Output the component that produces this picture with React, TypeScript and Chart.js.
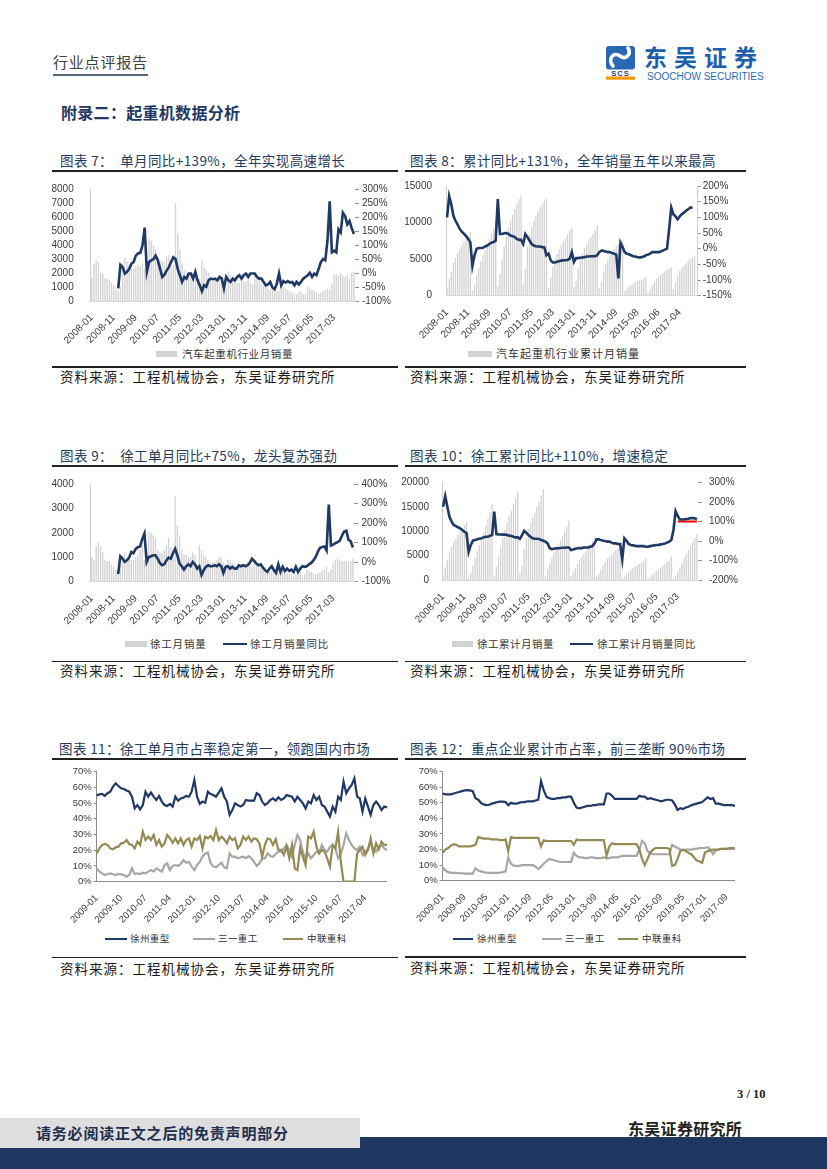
import React, { useEffect, useRef } from 'react';
import { Chart, registerables } from 'chart.js';

Chart.register(...registerables);

// ---------- categories ----------
function monthLabels(startYear: number, startMonth: number, count: number, skip: string[] = []): string[] {
  const out: string[] = [];
  let y = startYear;
  let m = startMonth;
  while (out.length < count) {
    const s = `${y}-${String(m).padStart(2, '0')}`;
    if (!skip.includes(s)) out.push(s);
    m++;
    if (m > 12) { m = 1; y++; }
  }
  return out;
}

const c7Categories = monthLabels(2008, 1, 120);
const c8Categories = monthLabels(2008, 1, 119, ['2015-01']);
const c9Categories = monthLabels(2008, 1, 120);
const c10Categories = monthLabels(2008, 1, 120);
const c11Categories = monthLabels(2009, 1, 108);
const c12Categories = monthLabels(2009, 1, 108);

const c7TickLabels = ['2008-01', '2008-11', '2009-09', '2010-07', '2011-05', '2012-03', '2013-01', '2013-11', '2014-09', '2015-07', '2016-05', '2017-03'];
const c8TickLabels = ['2008-01', '2008-11', '2009-09', '2010-07', '2011-05', '2012-03', '2013-01', '2013-11', '2014-09', '2015-08', '2016-06', '2017-04'];
const c9TickLabels = ['2008-01', '2008-11', '2009-09', '2010-07', '2011-05', '2012-03', '2013-01', '2013-11', '2014-09', '2015-07', '2016-05', '2017-03'];
const c10TickLabels = ['2008-01', '2008-11', '2009-09', '2010-07', '2011-05', '2012-03', '2013-01', '2013-11', '2014-09', '2015-07', '2016-05', '2017-03'];
const c11TickLabels = ['2009-01', '2009-10', '2010-07', '2011-04', '2012-01', '2012-10', '2013-07', '2014-04', '2015-01', '2015-10', '2016-07', '2017-04'];
const c12TickLabels = ['2009-01', '2009-09', '2010-05', '2011-01', '2011-09', '2012-05', '2013-01', '2013-09', '2014-05', '2015-01', '2015-09', '2016-05', '2017-01', '2017-09'];

// ---------- chart 7: truck crane monthly sales & YoY ----------
const c7Sales = [
  1650, 2650, 2900, 2750, 2000, 1950, 1600, 1600, 1500, 1300, 1100, 900,
  700, 1000, 2700, 3100, 2800, 2600, 2400, 2300, 2500, 2600, 2500, 2700,
  2300, 2500, 4500, 4300, 4000, 3700, 3200, 2800, 2900, 2800, 3200, 3300,
  2400, 2600, 7000, 4800, 3700, 2700, 2200, 2000, 2000, 1900, 2000, 2100,
  1300, 1600, 2900, 2400, 2200, 2000, 1600, 1500, 1500, 1400, 1500, 1600,
  1400, 900, 2100, 1900, 1700, 1500, 1300, 1300, 1400, 1400, 1400, 1600,
  1300, 1200, 1900, 1800, 1500, 1300, 1100, 1000, 900, 800, 800, 900,
  700, 700, 1100, 1000, 900, 800, 700, 600, 500, 500, 600, 700,
  500, 500, 1000, 900, 800, 700, 600, 500, 600, 700, 800, 900,
  800, 1200, 1900, 1900, 1800, 2000, 1800, 1700, 1800, 1600, 2000, 2100,
];
const c7YoY = [
  null, null, null, null, null, null, null, null, null, null, null, null,
  -55, 29, 21, -2, 4, 15, 33, 39, 62, 70, 72, 98,
  162, 4, 39, 45, 50, 62, 45, 15, -14, -6, 9, 21,
  39, 56, 50, 15, -8, -32, -14, -20, -2, -2, -20, 4,
  -26, -44, -65, -44, -49, -26, -20, -22, -20, -26, -14, -20,
  -55, -14, -26, -32, -20, -26, -14, -8, -20, -8, -2, -14,
  -2, -2, -2, -14, -20, -20, -32, -44, -41, -32, -52, -58,
  -38, -2, -44, -29, -34, -29, -34, -32, -44, -32, -41, -32,
  -20, -14, -8, 1, -14, -2, -8, 15, 39, 50, 45, 115,
  256, 74, 80, 74, 156, 145, 215, 203, 174, 186, 160, 139,
];

// ---------- chart 8: truck crane cumulative sales & cumulative YoY ----------
const c8CumSales = [
  1000, 2300, 3300, 4500, 5200, 5800, 6400, 6900, 7400, 7900, 8300, 8700,
  700, 1500, 2800, 3800, 4700, 5500, 6200, 6900, 7700, 8500, 9300, 10200,
  1300, 3000, 5000, 6700, 8100, 9300, 10300, 11100, 11900, 12600, 13200, 13700,
  1500, 3600, 6700, 8300, 9400, 10200, 10900, 11500, 12100, 12600, 13000, 13300,
  1100, 2500, 4000, 5000, 5800, 6400, 6900, 7400, 7900, 8400, 8900, 9300,
  1200, 2000, 3700, 4900, 5800, 6500, 7000, 7500, 8000, 8500, 9000, 9600,
  1000, 1900, 3300, 4300, 5000, 5600, 6000, 6400, 6800, 7100, 7400, 7700,
  600, 1000, 1300, 1500, 1700, 1850, 2000, 2100, 2200, 2350, 2500,
  400, 800, 1400, 1900, 2300, 2600, 2900, 3100, 3300, 3500, 3700, 3900,
  900, 1800, 2800, 3400, 3800, 4100, 4400, 4700, 5000, 5300, 5500, null,
];
const c8CumYoY = [
  100, 168, 142, 105, 89, 77, 63, 54, 47, 40, 31, 21,
  -55, -21, 0, 2, 2, 3, 7, 10, 15, 19, 21, 26,
  158, 47, 47, 49, 50, 47, 42, 40, 37, 31, 28, 28,
  15, 47, 37, 26, 15, 10, 8, 7, 7, 5, 4, -21,
  -16, -37, -44, -44, -42, -40, -38, -37, -37, -36, -32, -11,
  -42, -30, -30, -29, -28, -27, -25, -25, -24, -24, -24, -21,
  -11, -6, -7, -9, -11, -11, -14, -16, -19, -95, 19, 5,
  -11, -16, -18, -21, -24, -25, -27, -28, -27, -25, -21, -19,
  -16, -11, -11, -11, -11, -9, -6, -3, 0, 63, 131, 110,
  103, 94, 103, 110, 115, 121, 126, 131, 131, null, null,
];

// ---------- chart 9: XCMG monthly sales & YoY ----------
const c9Sales = [
  1000, 900, 1450, 1600, 1450, 1200, 900, 850, 850, 700, 600, 500,
  300, 700, 1100, 1200, 1000, 950, 900, 900, 1000, 1100, 1300, 1500,
  900, 1200, 2000, 2000, 1900, 1800, 1300, 1200, 1200, 1300, 1500, 1800,
  1400, 1300, 3500, 2300, 1900, 1300, 1100, 1100, 1000, 1000, 1200, 1100,
  700, 1500, 1300, 1100, 1000, 900, 800, 800, 800, 900, 1000, 1000,
  800, 700, 900, 900, 800, 700, 650, 600, 650, 700, 750, 800,
  700, 600, 900, 800, 700, 600, 500, 500, 450, 400, 450, 500,
  400, 350, 500, 450, 400, 350, 300, 300, 250, 300, 350, 400,
  250, 300, 500, 450, 400, 350, 300, 350, 400, 450, 500, 600,
  400, 500, 800, 900, 950, 900, 850, 850, 850, 800, 850, 950,
];
const c9YoY = [
  null, null, null, null, null, null, null, null, null, null, null, null,
  -61, 30, 18, 1, 9, 23, 52, 46, 68, 77, 80, 119,
  147, 1, 26, 30, 35, 35, 18, -4, -16, -11, 9, 23,
  18, 46, 68, 35, -7, -21, -38, -21, -11, -21, 1, -11,
  -33, -21, -66, -41, -24, -16, -21, -21, -16, -21, -11, -21,
  -55, -24, -21, -33, -24, -33, -33, -16, -21, -16, -21, -16,
  -4, 18, 6, -7, -16, -11, -28, -41, -50, -33, -21, -41,
  -55, -11, -50, -24, -45, -33, -45, -38, -50, -24, -50, -33,
  -21, -24, -21, -11, -4, 9, 26, 52, 73, 77, 80, 60,
  295, 85, 90, 97, 102, 110, 135, 157, 161, 114, 107, 75,
];

// ---------- chart 10: XCMG cumulative sales & cumulative YoY ----------
const c10CumSales = [
  1000, 2600, 4200, 5700, 6800, 7800, 8600, 9300, 10000, 10700, 11400, 12000,
  400, 1500, 3000, 4500, 5900, 7200, 8500, 9800, 11200, 12600, 14000, 15600,
  1000, 2700, 4800, 6800, 8700, 10400, 11800, 13100, 14300, 15600, 16800, 18200,
  1400, 2900, 6400, 8700, 10500, 11800, 12900, 13900, 15000, 16100, 17300, 18600,
  700, 2200, 3500, 4600, 5600, 6500, 7300, 8100, 9000, 10000, 11000, 12200,
  800, 1500, 2400, 3300, 4100, 4800, 5400, 6000, 6700, 7400, 8100, 8900,
  700, 1300, 2200, 3000, 3700, 4300, 4800, 5300, 5700, 6100, 6500, 7000,
  400, 750, 1250, 1700, 2100, 2450, 2750, 3050, 3300, 3600, 3950, 4400,
  250, 550, 1050, 1500, 1900, 2250, 2550, 2900, 3300, 3750, 4250, 4900,
  400, 900, 1700, 2600, 3550, 4450, 5300, 6150, 7000, 7800, 8600, 9500,
];
const c10CumYoY = [
  177, 231, 177, 125, 100, 83, 77, 71, 65, 57, 48, 40,
  -55, -20, 2, 5, 9, 12, 15, 19, 22, 22, 28, 31,
  151, 36, 34, 34, 33, 34, 31, 28, 26, 22, 19, 19,
  11, 31, 53, 43, 31, 22, 14, 12, 12, 11, 5, 2,
  -3, -12, -37, -41, -39, -37, -37, -36, -34, -34, -33, -33,
  -46, -43, -39, -37, -36, -36, -33, -33, -33, -29, -26, -12,
  9, 9, 5, 2, 0, -3, -3, -8, -12, -12, -15, -15,
  -94, 14, 2, -15, -20, -22, -24, -26, -26, -26, -26, -29,
  -29, -26, -24, -22, -20, -20, -17, -15, -12, -8, -3, 5,
  57, 154, 129, 111, 111, 111, 113, 115, 118, 118, 117, 111,
];
const c10RefMonths = ['2017-03', '2017-04', '2017-05', '2017-06', '2017-07', '2017-08', '2017-09', '2017-10', '2017-11', '2017-12'];
const c10RefValues = [100, 100, 100, 100, 100, 100, 100, 100, 100, 100];

// ---------- chart 11: monthly market share ----------
const c11Xugong = [
  54.8, 55.6, 55.8, 54.6, 56.3, 57.3, 60.5, 62.6, 60.9, 59.4,
  59, 58, 57.3, 54.1, 46.7, 48.8, 46, 48.8, 57.3, 54.1,
  56.7, 54.1, 52, 54.6, 51, 48.8, 48.2, 49.5, 47.8, 54.1,
  51.6, 53, 53.5, 54.6, 54.1, 57.3, 64.8, 54.1, 49.5, 51,
  50.3, 57.3, 55.8, 55.2, 54.1, 56.7, 59.4, 54.1, 51, 42.5,
  45.6, 49.9, 48.8, 47.8, 48.8, 52, 51.6, 51.6, 51.6, 56.3,
  55.2, 51, 48.8, 49.9, 52, 53, 51.6, 53.7, 52, 53,
  55.2, 54.6, 54.1, 51, 54.1, 52, 49.9, 46.7, 51, 49.9,
  55.2, 52, 54.1, 48.8, 47.8, 44.6, 41.4, 47.8, 44.6, 54.1,
  52, 63.7, 56.3, 59.4, 61.6, 65.8, 54.1, 53, 44.6, 53,
  47.8, 42.5, 48.8, 51, 48.8, 45.6, 47.8, 47.3,
];
const c11Sany = [
  8.5, 6.4, 5.3, 4.2, 4.9, 5.3, 4.7, 4.2, 4.9, 4.7,
  4.2, 3.2, 4.2, 8.5, 4.9, 5.3, 4.9, 5.7, 5.3, 6.4,
  7.4, 6.4, 8.5, 7.4, 6.4, 10.6, 11.7, 7.4, 10, 10.6,
  10, 11.3, 13.8, 12.1, 12.7, 9.6, 7.4, 10.6, 12.7, 15.9,
  18, 18.5, 11.7, 9.6, 9.1, 10.6, 12.1, 9.1, 8.5, 18,
  15.9, 15.9, 14.9, 15.5, 15.9, 14.9, 16.3, 14.9, 12.7, 10,
  11.7, 14.9, 14.9, 18, 16.3, 15.9, 17.6, 19.1, 19.1, 21.2,
  23.4, 20.2, 15.9, 23.4, 29.7, 26.5, 19.1, 13.8, 18, 14.9,
  17, 19.1, 18, 23.4, 20.2, 19.1, 22.3, 23.4, 21.2, 14.9,
  17.6, 23.4, 30.8, 26.5, 23.4, 21.2, 20.2, 22.3, 17, 19.1,
  21.2, 24.4, 20.2, 19.1, 22.3, 23.4, 21.2, 20.2,
];
const c11Zoomlion = [
  18, 21.2, 23.4, 24, 23.4, 21.2, 20.6, 21.9, 22.3, 24.4,
  24.8, 26.5, 24, 23.4, 21.2, 25.5, 23.4, 31.8, 26.5, 28.7,
  26.5, 29.7, 23.4, 26.5, 22.3, 24.4, 29.7, 27.6, 24.8, 27.6,
  24.4, 27.6, 23.4, 26.5, 27.6, 22.3, 27.6, 26.5, 29.1, 21.2,
  28.7, 27.6, 29.1, 26.5, 32.9, 26.5, 28.7, 27, 24.4, 28.7,
  26.5, 27.6, 21.2, 23.4, 28.7, 26.5, 28.7, 25.5, 27.6, 27,
  24.4, 15.9, 23.4, 27.6, 27, 23.4, 27, 20.2, 20.2, 17,
  22.7, 14.9, 23.4, 8.5, 7.4, 21.2, 15.9, 10.6, 28.7, 27.6,
  31.8, 22.3, 18, 20.2, 19.1, 14.9, 9.6, 23.4, 21.2, 31.8,
  12.7, 0, 0, 0, 0, 0, 18, 20.2, 22.3, 17,
  20.2, 27.6, 18, 24.4, 20.6, 25.5, 23.4, 23.4,
];

// ---------- chart 12: cumulative market share ----------
const c12Xugong = [
  56, 55.5, 55.5, 55.5, 56, 56.5, 57, 57.5, 58, 58.2, 58, 57.5,
  53, 52, 50, 49, 48.5, 48.8, 49.5, 50, 50.5, 50.8, 50.8, 50.5,
  48.5, 50, 49.5, 49.5, 50, 50.5, 50.5, 51, 51, 51, 51.5, 52,
  64, 58, 54, 53, 52.5, 52.5, 53, 53, 53.5, 53.5, 54, 54,
  50, 47, 46.5, 47, 47.5, 48, 48, 48.5, 48.5, 49, 49, 49,
  56, 56, 54.5, 52.5, 52.5, 52.5, 52.5, 52.5, 52.5, 52.5, 52.5, 52.5,
  54.5, 54, 54, 52.5, 53, 52.5, 52, 51.5, 51, 51.5, 52, 52,
  51.5, 49, 45.5, 46.5, 46, 47, 47.5, 48.5, 49, 49.5, 50, 50.5,
  52, 53.5, 52.5, 53, 49.5, 49.5, 49, 48.5, 48.5, 48.5, 48.5, 48,
];
const c12Sany = [
  8.5, 6.5, 5.5, 5, 5, 5, 4.8, 4.8, 4.5, 4.5, 4.5, 4.5,
  8, 6.5, 6, 5.5, 5.2, 5, 5, 5, 5, 5.2, 5.5, 6,
  15, 11, 9.5, 9.5, 9.5, 10, 10, 10, 10, 10, 9, 7.5,
  9, 11, 12.5, 14, 13.5, 13, 12.5, 12, 12, 12, 12, 12,
  18, 16, 15, 15, 14.5, 14.5, 15, 15, 14.5, 14.5, 14.5, 15,
  14.5, 14.5, 15, 15, 15, 15.5, 16, 16, 16, 16, 16, 16,
  20, 25.5, 24, 19, 17.5, 17, 17, 17, 17, 17, 17, 17,
  23, 22, 21, 20, 19.5, 20, 20, 20, 20.5, 20.5, 21, 21,
  21, 21.5, 20, 17, 19.5, 20, 20.5, 20.5, 20.5, 20.5, 20.5, 20.5,
];
const c12Zoomlion = [
  18, 20, 21, 22.5, 23.5, 23, 22, 22, 22, 22, 22, 22.5,
  23, 28, 27.5, 27, 27, 27, 26.5, 26.5, 26.5, 26, 26, 26.5,
  19, 28, 27.5, 27.5, 27.5, 27.5, 27.5, 27.5, 27.5, 27.5, 27.5, 27.5,
  22, 26, 25.5, 25.5, 25.5, 25.5, 25.5, 25.5, 25.5, 25.5, 25.5, 25.5,
  23, 26.5, 26, 26, 26, 26, 26, 26, 26, 26, 26, 26,
  16, 22, 24, 23.5, 23.5, 23.5, 23.5, 23.5, 23.5, 23.5, 23.5, 23.5,
  20, 14, 10, 14, 18, 20, 21, 21, 21, 21, 21, 20.5,
  9.5, 10, 14, 19, 20, 19, 18, 17, 15, 13, 12.5, 11.5,
  18, 19, 19.5, 20, 20, 20, 20.5, 20.5, 20.5, 21, 21, 21,
];

// ---------- styling ----------
const NAVY = '#1f3864';
const BAR_GRAY = '#d3d3d3';
const SANY_GRAY = '#a6a6a6';
const OLIVE = '#948a54';
const TICK_COLOR = '#3a3a3a';
const LATIN = "'Liberation Sans', Arial, sans-serif";
const CJK = "'Noto Sans CJK SC', 'Noto Sans', sans-serif";

type Box = { x: number; y: number; w: number; h: number };

function xTickCallback(labels: string[], shown: string[]) {
  const set = new Set(shown);
  return (_v: any, i: number) => (set.has(labels[i]) ? labels[i] : '');
}

interface DualSpec {
  box: Box; L: number; R: number; T: number; B: number;
  labels: string[]; ticks: string[];
  bars: (number | null)[]; line: (number | null)[];
  refLine?: { x: string; y: number }[];
  yMax: number; yStep: number; y1Min: number; y1Max: number; y1Step: number;
  leftPad: number; rightTickLen: number; rightPad: number; rightBorder: boolean;
}

function dualConfig(s: DualSpec): any {
  const leftW = s.L - s.box.x;
  const rightW = s.box.x + s.box.w - s.R;
  const xH = s.box.y + s.box.h - s.B;
  const datasets: any[] = [
    { type: 'line', data: s.line, yAxisID: 'y1', borderColor: NAVY, borderWidth: 2.6, pointRadius: 0, tension: 0, order: 0 },
    { type: 'bar', data: s.bars, yAxisID: 'y', backgroundColor: BAR_GRAY, barPercentage: 0.62, categoryPercentage: 1, order: 2 },
  ];
  if (s.refLine) {
    datasets.push({ type: 'line', data: s.refLine, yAxisID: 'y1', borderColor: '#ff0000', borderWidth: 2, pointRadius: 0, order: 1 });
  }
  const tickFont = { family: LATIN, size: 10 };
  return {
    type: 'bar',
    data: { labels: s.labels, datasets },
    options: {
      responsive: false, animation: false, devicePixelRatio: 1, events: [],
      layout: { padding: { top: s.T - s.box.y, left: 0, right: 0, bottom: 0 } },
      plugins: { legend: { display: false }, tooltip: { enabled: false } },
      scales: {
        x: {
          type: 'category', offset: true,
          grid: { display: false },
          border: { display: true, color: '#d9d9d9', width: 1 },
          ticks: { autoSkip: false, maxRotation: 45, minRotation: 45, padding: 3, color: TICK_COLOR, font: tickFont, callback: xTickCallback(s.labels, s.ticks) },
          afterFit: (sc: any) => { sc.height = xH; },
        },
        y: {
          position: 'left', min: 0, max: s.yMax,
          grid: { display: false },
          border: { display: true, color: '#cfcfcf', width: 1 },
          ticks: { stepSize: s.yStep, autoSkip: false, padding: s.leftPad, color: TICK_COLOR, font: tickFont, callback: (v: any) => String(v) },
          afterFit: (sc: any) => { sc.width = leftW; },
        },
        y1: {
          position: 'right', min: s.y1Min, max: s.y1Max,
          grid: { display: true, drawOnChartArea: false, drawTicks: true, tickLength: s.rightTickLen, color: '#8c8c8c' },
          border: { display: s.rightBorder, color: '#cfcfcf', width: 1 },
          ticks: { stepSize: s.y1Step, autoSkip: false, padding: s.rightPad, color: TICK_COLOR, font: tickFont, callback: (v: any) => `${v}%` },
          afterFit: (sc: any) => { sc.width = rightW; },
        },
      },
    },
  };
}

interface ShareSpec {
  box: Box; L: number; R: number; T: number; B: number;
  labels: string[]; ticks: string[]; rotation: number;
  xugong: number[]; sany: number[]; zoomlion: number[];
}

function shareConfig(s: ShareSpec): any {
  const leftW = s.L - s.box.x;
  const rightW = s.box.x + s.box.w - s.R;
  const xH = s.box.y + s.box.h - s.B;
  const tickFont = { family: LATIN, size: 9.5 };
  return {
    type: 'line',
    data: {
      labels: s.labels,
      datasets: [
        { data: s.xugong, borderColor: NAVY, borderWidth: 2.2, pointRadius: 0, tension: 0, order: 0 },
        { data: s.zoomlion, borderColor: OLIVE, borderWidth: 2.2, pointRadius: 0, tension: 0, order: 1 },
        { data: s.sany, borderColor: SANY_GRAY, borderWidth: 2.2, pointRadius: 0, tension: 0, order: 2 },
      ],
    },
    options: {
      responsive: false, animation: false, devicePixelRatio: 1, events: [],
      layout: { padding: { top: s.T - s.box.y, left: 0, right: 0, bottom: 0 } },
      plugins: { legend: { display: false }, tooltip: { enabled: false } },
      scales: {
        x: {
          type: 'category', offset: false,
          grid: { display: false },
          border: { display: true, color: '#8c8c8c', width: 1 },
          ticks: { autoSkip: false, maxRotation: s.rotation, minRotation: s.rotation, padding: 3, color: TICK_COLOR, font: tickFont, callback: xTickCallback(s.labels, s.ticks) },
          afterFit: (sc: any) => { sc.height = xH; },
        },
        y: {
          position: 'left', min: 0, max: 70,
          grid: { display: true, drawOnChartArea: false, drawTicks: true, tickLength: 3, color: '#8c8c8c' },
          border: { display: true, color: '#8c8c8c', width: 1 },
          ticks: { stepSize: 10, autoSkip: false, padding: 2, color: TICK_COLOR, font: tickFont, callback: (v: any) => `${v}%` },
          afterFit: (sc: any) => { sc.width = leftW; },
        },
      },
    },
  };
}

function ChartCanvas({ box, make }: { box: Box; make: () => any }) {
  const ref = useRef<HTMLCanvasElement>(null);
  useEffect(() => {
    if (!ref.current) return;
    const chart = new Chart(ref.current, make());
    return () => chart.destroy();
  }, []);
  return (
    <canvas
      ref={ref}
      width={box.w}
      height={box.h}
      style={{ position: 'absolute', left: box.x, top: box.y, width: box.w, height: box.h }}
    />
  );
}

// ---------- HTML text helpers ----------
function Txt(props: { x: number; y: number; size: number; children: any; color?: string; weight?: number; family?: string; spacing?: number }) {
  const { x, y, size, children, color = '#1a1a1a', weight = 400, family = CJK, spacing = 0 } = props;
  return (
    <div
      style={{
        position: 'absolute', left: x, top: y - size * 0.6, height: size * 1.2, lineHeight: `${size * 1.2}px`,
        fontSize: size, fontFamily: family, fontWeight: weight, color, letterSpacing: spacing, whiteSpace: 'nowrap',
      }}
    >
      {children}
    </div>
  );
}

function HLine({ x1, x2, y, w, color }: { x1: number; x2: number; y: number; w: number; color: string }) {
  return <div style={{ position: 'absolute', left: x1, top: y - w / 2, width: x2 - x1, height: w, background: color }} />;
}

type LegendItem = { kind: 'bar' | 'line'; color: string; x: number; w: number; text: string; tx: number };

function Legend({ y, items, size, spacing }: { y: number; items: LegendItem[]; size: number; spacing: number }) {
  return (
    <>
      {items.map((it, i) => (
        <React.Fragment key={i}>
          {it.kind === 'bar' ? (
            <div style={{ position: 'absolute', left: it.x, top: y - 3, width: it.w, height: 6, background: it.color }} />
          ) : (
            <div style={{ position: 'absolute', left: it.x, top: y - 1.2, width: it.w, height: 2.4, background: it.color }} />
          )}
          <Txt x={it.tx} y={y} size={size} color="#333" spacing={spacing}>{it.text}</Txt>
        </React.Fragment>
      ))}
    </>
  );
}

// ---------- chart boxes ----------
const box7: Box = { x: 50, y: 174, w: 348, h: 171 };
const box8: Box = { x: 400, y: 174, w: 346, h: 171 };
const box9: Box = { x: 50, y: 469, w: 348, h: 167 };
const box10: Box = { x: 400, y: 469, w: 346, h: 167 };
const box11: Box = { x: 50, y: 762, w: 348, h: 168 };
const box12: Box = { x: 400, y: 762, w: 346, h: 168 };

export default function App() {
  const titleColor = '#253b5e';
  const titleSize = 13.5;
  const srcText = '资料来源：工程机械协会，东吴证券研究所';

  return (
    <div style={{ position: 'absolute', left: 0, top: 0, width: 827, height: 1169, background: '#fff', overflow: 'hidden' }}>
      {/* header */}
      <Txt x={53} y={62} size={15} color="#404040" spacing={0.8}>行业点评报告</Txt>
      <HLine x1={53} x2={148} y={75} w={2} color="#56667c" />

      {/* logo */}
      <svg style={{ position: 'absolute', left: 606, top: 45 }} width={32} height={36}>
        <rect x={0} y={1} width={29} height={23.5} rx={3} fill="#2b68b3" />
        <path d="M7 21 C 1 14, 8 6, 14 11 C 19 15, 26 10, 22 3" stroke="#ffffff" strokeWidth={3.6} fill="none" strokeLinecap="round" />
        <text x={14.5} y={30.5} textAnchor="middle" fontFamily={LATIN} fontWeight={700} fontSize={7.5} fill="#1f3e7a" letterSpacing={1}>SCS</text>
        <rect x={0} y={31.5} width={29} height={3.2} fill="#f39800" />
      </svg>
      <Txt x={644} y={57} size={23} color="#1d5fae" weight={700} spacing={7}>东吴证券</Txt>
      <Txt x={647} y={77} size={10} color="#2a6bb5" family={LATIN}>SOOCHOW SECURITIES</Txt>

      {/* section heading */}
      <Txt x={61} y={113} size={16} color={NAVY} weight={700} spacing={0.3}>附录二：起重机数据分析</Txt>

      {/* row 1 */}
      <Txt x={60} y={160} size={titleSize} color={titleColor} spacing={0.4}>图表 7：　单月同比+139%，全年实现高速增长</Txt>
      <HLine x1={52} x2={398} y={171} w={2} color="#222" />
      <Txt x={410} y={160} size={titleSize} color={titleColor} spacing={0.4}>图表 8：累计同比+131%，全年销量五年以来最高</Txt>
      <HLine x1={405} x2={746} y={171} w={2} color="#222" />

      <ChartCanvas box={box7} make={() => dualConfig({
        box: box7, L: 90.7, R: 355, T: 187.7, B: 301,
        labels: c7Categories, ticks: c7TickLabels, bars: c7Sales, line: c7YoY,
        yMax: 8000, yStep: 1000, y1Min: -100, y1Max: 300, y1Step: 50,
        leftPad: 9, rightTickLen: 4, rightPad: 3, rightBorder: false,
      })} />
      <ChartCanvas box={box8} make={() => dualConfig({
        box: box8, L: 446, R: 697.7, T: 185, B: 295.7,
        labels: c8Categories, ticks: c8TickLabels, bars: c8CumSales, line: c8CumYoY,
        yMax: 15000, yStep: 5000, y1Min: -150, y1Max: 200, y1Step: 50,
        leftPad: 6, rightTickLen: 3, rightPad: 2, rightBorder: true,
      })} />

      <Legend y={354} size={10.5} spacing={0.6} items={[
        { kind: 'bar', color: BAR_GRAY, x: 156, w: 21, text: '汽车起重机行业月销量', tx: 182 },
      ]} />
      <Legend y={354} size={11} spacing={1} items={[
        { kind: 'bar', color: BAR_GRAY, x: 468, w: 24, text: '汽车起重机行业累计月销量', tx: 496 },
      ]} />

      <HLine x1={52} x2={398} y={367} w={1.6} color="#222" />
      <HLine x1={405} x2={746} y={367} w={1.6} color="#222" />
      <Txt x={60} y={376} size={13.5} spacing={1}>{srcText}</Txt>
      <Txt x={410} y={376} size={13.5} spacing={1}>{srcText}</Txt>

      {/* row 2 */}
      <Txt x={60} y={455} size={titleSize} color={titleColor} spacing={0.4}>图表 9：　徐工单月同比+75%，龙头复苏强劲</Txt>
      <HLine x1={52} x2={398} y={466} w={2} color="#222" />
      <Txt x={410} y={455} size={titleSize} color={titleColor} spacing={0.4}>图表 10：徐工累计同比+110%，增速稳定</Txt>
      <HLine x1={405} x2={746} y={466} w={2} color="#222" />

      <ChartCanvas box={box9} make={() => dualConfig({
        box: box9, L: 90.7, R: 354, T: 482.7, B: 581.7,
        labels: c9Categories, ticks: c9TickLabels, bars: c9Sales, line: c9YoY,
        yMax: 4000, yStep: 1000, y1Min: -100, y1Max: 400, y1Step: 100,
        leftPad: 9, rightTickLen: 4, rightPad: 3.5, rightBorder: false,
      })} />
      <ChartCanvas box={box10} make={() => dualConfig({
        box: box10, L: 442, R: 698, T: 482.7, B: 580,
        labels: c10Categories, ticks: c10TickLabels, bars: c10CumSales, line: c10CumYoY,
        refLine: c10RefMonths.map((m, i) => ({ x: m, y: c10RefValues[i] })),
        yMax: 20000, yStep: 5000, y1Min: -200, y1Max: 300, y1Step: 100,
        leftPad: 5, rightTickLen: 4, rightPad: 7, rightBorder: false,
      })} />

      <Legend y={644} size={10.5} spacing={0.8} items={[
        { kind: 'bar', color: BAR_GRAY, x: 125, w: 22, text: '徐工月销量', tx: 150 },
        { kind: 'line', color: NAVY, x: 223, w: 24, text: '徐工月销量同比', tx: 250 },
      ]} />
      <Legend y={644} size={10.5} spacing={0.5} items={[
        { kind: 'bar', color: BAR_GRAY, x: 452, w: 21, text: '徐工累计月销量', tx: 477 },
        { kind: 'line', color: NAVY, x: 570, w: 23, text: '徐工累计月销量同比', tx: 597 },
      ]} />

      <HLine x1={52} x2={398} y={661.7} w={1.6} color="#222" />
      <HLine x1={405} x2={746} y={661.7} w={1.6} color="#222" />
      <Txt x={60} y={670} size={13.5} spacing={1}>{srcText}</Txt>
      <Txt x={410} y={670} size={13.5} spacing={1}>{srcText}</Txt>

      {/* row 3 */}
      <Txt x={59} y={748} size={titleSize} color={titleColor} spacing={0.4}>图表 11：徐工单月市占率稳定第一，领跑国内市场</Txt>
      <HLine x1={52} x2={398} y={759.3} w={2} color="#222" />
      <Txt x={410} y={748} size={titleSize} color={titleColor} spacing={0.4}>图表 12：重点企业累计市占率，前三垄断 90%市场</Txt>
      <HLine x1={405} x2={746} y={759.3} w={2} color="#222" />

      <ChartCanvas box={box11} make={() => shareConfig({
        box: box11, L: 96.7, R: 373, T: 771.7, B: 881.7,
        labels: c11Categories, ticks: c11TickLabels, rotation: 45,
        xugong: c11Xugong, sany: c11Sany, zoomlion: c11Zoomlion,
      })} />
      <ChartCanvas box={box12} make={() => shareConfig({
        box: box12, L: 442.7, R: 720, T: 771.7, B: 880.7,
        labels: c12Categories, ticks: c12TickLabels, rotation: 45,
        xugong: c12Xugong, sany: c12Sany, zoomlion: c12Zoomlion,
      })} />

      <Legend y={939} size={9.5} spacing={0.4} items={[
        { kind: 'line', color: NAVY, x: 105, w: 22, text: '徐州重型', tx: 130 },
        { kind: 'line', color: SANY_GRAY, x: 193, w: 22, text: '三一重工', tx: 218 },
        { kind: 'line', color: OLIVE, x: 283, w: 20, text: '中联重科', tx: 307 },
      ]} />
      <Legend y={939} size={9.5} spacing={0.4} items={[
        { kind: 'line', color: NAVY, x: 453, w: 20, text: '徐州重型', tx: 477 },
        { kind: 'line', color: SANY_GRAY, x: 542, w: 20, text: '三一重工', tx: 565 },
        { kind: 'line', color: OLIVE, x: 618, w: 20, text: '中联重科', tx: 642 },
      ]} />

      <HLine x1={52} x2={398} y={957.5} w={1.6} color="#222" />
      <HLine x1={405} x2={746} y={957} w={1.6} color="#222" />
      <Txt x={60} y={968} size={13.5} spacing={1}>{srcText}</Txt>
      <Txt x={410} y={967} size={13.5} spacing={1}>{srcText}</Txt>

      {/* footer */}
      <Txt x={737} y={1094} size={12.5} family="'Liberation Serif', serif" weight={700} color="#222">3 / 10</Txt>
      <div style={{ position: 'absolute', left: 0, top: 1118, width: 360, height: 30, background: '#dedede' }} />
      <div style={{ position: 'absolute', left: 360, top: 1137, width: 467, height: 11, background: '#1d3760' }} />
      <div style={{ position: 'absolute', left: 0, top: 1148, width: 827, height: 21, background: '#1d3760' }} />
      <Txt x={36} y={1133} size={15} weight={700} color="#1f2f4f" spacing={0.8}>请务必阅读正文之后的免责声明部分</Txt>
      <Txt x={628} y={1129} size={16} weight={700} color="#222" spacing={0.3}>东吴证券研究所</Txt>
    </div>
  );
}
